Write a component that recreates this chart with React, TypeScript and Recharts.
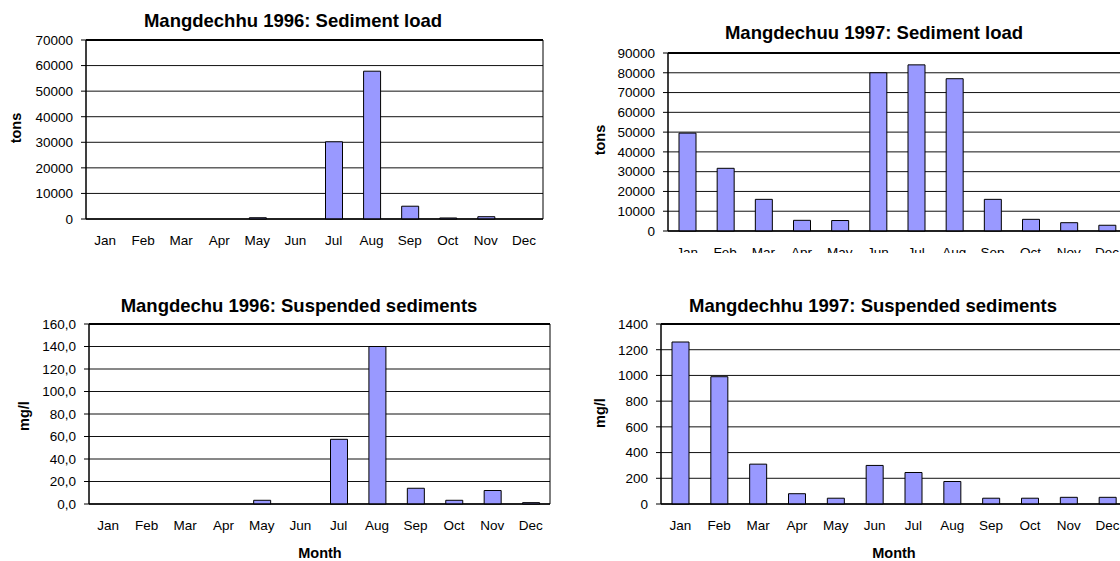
import { BarChart, Bar, XAxis, YAxis, CartesianGrid, ReferenceArea, ReferenceLine } from 'recharts'

const months = ['Jan', 'Feb', 'Mar', 'Apr', 'May', 'Jun', 'Jul', 'Aug', 'Sep', 'Oct', 'Nov', 'Dec']
const monthEdges = [0, 1, 2, 3, 4, 5, 6, 7, 8, 9, 10, 11, 12]

// values
const load1996 = [0, 0, 0, 0, 500, 0, 30200, 57800, 5000, 400, 900, 0]
const load1997 = [49500, 31700, 16000, 5400, 5300, 80000, 84000, 77000, 16000, 5900, 4200, 2900]
const susp1996 = [0, 0, 0, 0, 3.3, 0, 57.5, 140, 14, 3.3, 12, 1.2]
const susp1997 = [1260, 990, 310, 80, 45, 300, 245, 175, 45, 45, 52, 52]

const load1996Ticks = [0, 10000, 20000, 30000, 40000, 50000, 60000, 70000]
const load1997Ticks = [0, 10000, 20000, 30000, 40000, 50000, 60000, 70000, 80000, 90000]
const susp1996Ticks = [0, 20, 40, 60, 80, 100, 120, 140, 160]
const susp1997Ticks = [0, 200, 400, 600, 800, 1000, 1200, 1400]

const FONT = '"Liberation Sans", Arial, sans-serif'
const BAR_FILL = '#9999ff'
const TICK_SIZE = 13.5

interface PanelProps {
  values: number[]
  ticks: number[]
  formatTick?: (v: number) => string
  height: number
  axisWidth: number
  margin: { top: number; right: number; bottom: number; left: number }
  unit: string
  unitX: number
  unitY: number
}

function MonthlyBars({ values, ticks, formatTick, height, axisWidth, margin, unit, unitX, unitY }: PanelProps) {
  const data = months.map((m, i) => ({ month: m, value: values[i] }))
  const yMax = ticks[ticks.length - 1]

  return (
    <BarChart width={560} height={height} data={data} margin={margin} barSize={17}>
      <CartesianGrid vertical={false} stroke="#111" strokeWidth={1} />
      <XAxis
        dataKey="month"
        height={1}
        tickLine={false}
        axisLine={{ stroke: '#000' }}
        tickSize={0}
        tickMargin={16}
        interval={0}
        tick={{ fill: '#000', fontSize: TICK_SIZE, fontFamily: FONT }}
      />
      {/* second axis only for the tick marks between the months */}
      <XAxis
        xAxisId="edges"
        type="number"
        domain={[0, 12]}
        ticks={monthEdges}
        allowDataOverflow
        height={1}
        tick={false}
        tickSize={5}
        tickLine={{ stroke: '#000' }}
        axisLine={false}
      />
      <YAxis
        width={axisWidth}
        domain={[0, yMax]}
        ticks={ticks}
        interval={0}
        tickSize={5}
        tickMargin={8}
        tickFormatter={formatTick}
        axisLine={{ stroke: '#000' }}
        tickLine={{ stroke: '#000' }}
        tick={{ fill: '#000', fontSize: TICK_SIZE, fontFamily: FONT }}
        label={() => (
          <text
            x={unitX}
            y={unitY}
            transform={`rotate(-90 ${unitX} ${unitY})`}
            textAnchor="middle"
            dominantBaseline="central"
            fontFamily={FONT}
            fontSize={14.5}
            fontWeight="bold"
            fill="#000"
          >
            {unit}
          </text>
        )}
      />
      <ReferenceArea y1={0} y2={yMax} fill="none" stroke="#000" strokeWidth={1} ifOverflow="visible" />
      <ReferenceLine y={yMax} stroke="#000" strokeWidth={2} ifOverflow="visible" />
      <Bar dataKey="value" fill={BAR_FILL} stroke="#000" strokeWidth={1} isAnimationActive={false} />
    </BarChart>
  )
}

function Title({ text, cx, y, size = 18.5 }: { text: string; cx: number; y: number; size?: number }) {
  return (
    <div
      style={{
        position: 'absolute',
        left: cx - 250,
        width: 500,
        top: y - size / 2 - 2,
        textAlign: 'center',
        fontFamily: FONT,
        fontWeight: 'bold',
        fontSize: size,
        lineHeight: `${size + 4}px`,
        color: '#000',
        whiteSpace: 'nowrap',
      }}
    >
      {text}
    </div>
  )
}

const commaFormat = (v: number) => v.toFixed(1).replace('.', ',')

export default function App() {
  return (
    <div style={{ position: 'absolute', left: 0, top: 0, width: 1120, height: 561, overflow: 'hidden', background: '#fff' }}>
      {/* top left */}
      <div style={{ position: 'absolute', left: 0, top: 0, width: 560, height: 260 }}>
        <MonthlyBars
          values={load1996}
          ticks={load1996Ticks}
          height={260}
          axisWidth={86}
          margin={{ top: 40, right: 17, bottom: 39, left: 0 }}
          unit="tons"
          unitX={16}
          unitY={128}
        />
        <Title text="Mangdechhu 1996: Sediment load" cx={293} y={21} />
      </div>

      {/* top right, cut off at the bottom and right like the source */}
      <div style={{ position: 'absolute', left: 580, top: 0, width: 560, height: 253, overflow: 'hidden' }}>
        <MonthlyBars
          values={load1997}
          ticks={load1997Ticks}
          height={280}
          axisWidth={88}
          margin={{ top: 53, right: 14, bottom: 47, left: 0 }}
          unit="tons"
          unitX={20}
          unitY={140}
        />
        <Title text="Mangdechuu 1997: Sediment load" cx={294} y={33} />
      </div>

      {/* bottom left */}
      <div style={{ position: 'absolute', left: 0, top: 260, width: 560, height: 301 }}>
        <MonthlyBars
          values={susp1996}
          ticks={susp1996Ticks}
          formatTick={commaFormat}
          height={301}
          axisWidth={89}
          margin={{ top: 64, right: 10, bottom: 55, left: 0 }}
          unit="mg/l"
          unitX={24}
          unitY={156}
        />
        <Title text="Mangdechu 1996: Suspended sediments" cx={299} y={46} />
        <Title text="Month" cx={320} y={293} size={14.5} />
      </div>

      {/* bottom right */}
      <div style={{ position: 'absolute', left: 580, top: 260, width: 560, height: 301 }}>
        <MonthlyBars
          values={susp1997}
          ticks={susp1997Ticks}
          height={301}
          axisWidth={81}
          margin={{ top: 64, right: 13, bottom: 55, left: 0 }}
          unit="mg/l"
          unitX={20}
          unitY={153}
        />
        <Title text="Mangdechhu 1997: Suspended sediments" cx={293} y={46} />
        <Title text="Month" cx={314} y={293} size={14.5} />
      </div>
    </div>
  )
}
